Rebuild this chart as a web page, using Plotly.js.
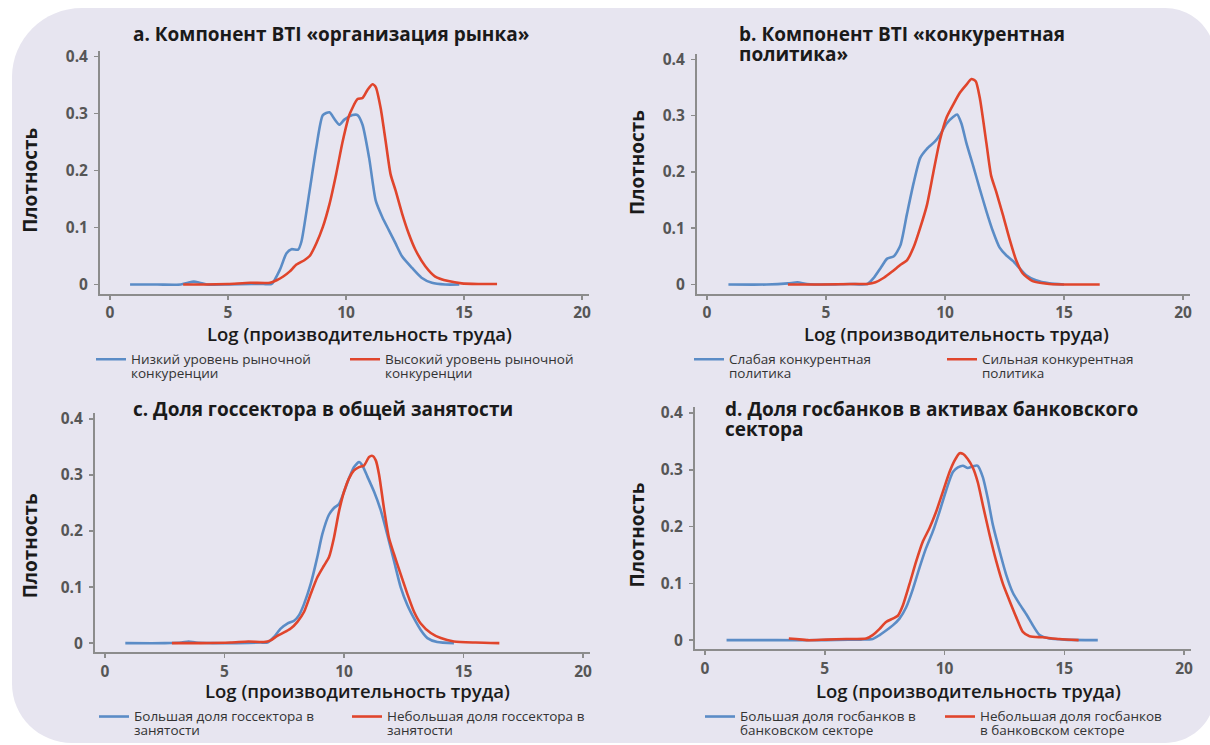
<!DOCTYPE html>
<html>
<head>
<meta charset="utf-8">
<script src="https://cdn.plot.ly/plotly-3.0.1.min.js"></script>
<style>html,body{margin:0;padding:0;background:#fff;}#chart{width:1210px;height:745px;}</style>
</head>
<body>
<div id="chart"></div>
<script>
// ---------- data ----------
const panelTitles = [
  ["a. Компонент BTI «организация рынка»"],
  ["b. Компонент BTI «конкурентная", "политика»"],
  ["c. Доля госсектора в общей занятости"],
  ["d. Доля госбанков в активах банковского", "сектора"]
];
const xAxisTitle = "Log (производительность труда)";
const yAxisTitle = "Плотность";
const xTickVals = [0, 5, 10, 15, 20];
const yTickVals = [0, 0.1, 0.2, 0.3, 0.4];
const yTickText = ["0", "0.1", "0.2", "0.3", "0.4"];

const legendNames = [
  [["Низкий уровень рыночной", "конкуренции"], ["Высокий уровень рыночной", "конкуренции"]],
  [["Слабая конкурентная", "политика"], ["Сильная конкурентная", "политика"]],
  [["Большая доля госсектора в", "занятости"], ["Небольшая доля госсектора в", "занятости"]],
  [["Большая доля госбанков в", "банковском секторе"], ["Небольшая доля госбанков", "в банковском секторе"]]
];

// panel a
const aBlueX = [0.85, 2.0, 3.0, 3.3, 3.55, 3.8, 4.1, 5.0, 6.0, 6.5, 6.85, 7.2, 7.48, 7.69, 7.97, 8.11, 8.46, 8.74, 9.02, 9.3, 9.51, 9.72, 9.93, 10.28, 10.49, 10.7, 10.98, 11.26, 11.54, 11.82, 12.1, 12.38, 12.8, 13.2, 13.64, 14.2, 14.8];
const aBlueY = [0, 0, 0, 0.003, 0.005, 0.003, 0, 0, 0.001, 0.001, 0.001, 0.026, 0.055, 0.062, 0.061, 0.075, 0.165, 0.24, 0.297, 0.302, 0.29, 0.28, 0.289, 0.297, 0.297, 0.28, 0.222, 0.147, 0.118, 0.095, 0.072, 0.049, 0.029, 0.012, 0.003, 0, 0];
const aRedX = [3.1, 4.0, 5.0, 5.94, 6.78, 7.06, 7.34, 7.62, 7.9, 8.25, 8.46, 8.74, 9.02, 9.3, 9.58, 9.86, 10.14, 10.49, 10.7, 10.91, 11.12, 11.26, 11.47, 11.68, 11.89, 12.1, 12.38, 12.66, 12.94, 13.36, 13.78, 14.34, 14.9, 15.6, 16.4];
const aRedY = [0, 0, 0.001, 0.003, 0.003, 0.0075, 0.014, 0.023, 0.035, 0.043, 0.05, 0.072, 0.101, 0.141, 0.193, 0.251, 0.297, 0.325, 0.327, 0.341, 0.351, 0.346, 0.309, 0.251, 0.193, 0.165, 0.124, 0.089, 0.061, 0.032, 0.014, 0.006, 0.002, 0.001, 0.001];

// panel b
const bBlueX = [0.9, 2.5, 3.4, 3.8, 4.2, 5.0, 6.0, 6.74, 7.01, 7.29, 7.57, 7.85, 8.13, 8.4, 8.68, 8.96, 9.24, 9.58, 9.79, 10.07, 10.35, 10.51, 10.69, 10.9, 11.18, 11.46, 11.74, 12.01, 12.29, 12.57, 12.85, 13.13, 13.4, 13.82, 14.38, 15.0];
const bBlueY = [0, 0, 0.002, 0.004, 0.001, 0, 0.001, 0.001, 0.012, 0.029, 0.046, 0.05, 0.07, 0.125, 0.18, 0.225, 0.241, 0.254, 0.266, 0.286, 0.298, 0.302, 0.286, 0.251, 0.211, 0.17, 0.13, 0.095, 0.066, 0.052, 0.042, 0.029, 0.017, 0.0075, 0.002, 0];
const bRedX = [3.4, 4.8, 6.18, 6.74, 7.08, 7.43, 7.78, 8.13, 8.4, 8.68, 8.96, 9.24, 9.51, 9.79, 10.07, 10.35, 10.63, 10.9, 11.11, 11.29, 11.46, 11.74, 11.94, 12.15, 12.43, 12.71, 12.99, 13.26, 13.68, 14.38, 15.5, 16.5];
const bRedY = [0, 0, 0.001, 0.001, 0.004, 0.012, 0.023, 0.035, 0.043, 0.066, 0.101, 0.141, 0.199, 0.257, 0.297, 0.32, 0.341, 0.355, 0.365, 0.361, 0.332, 0.251, 0.193, 0.165, 0.124, 0.081, 0.043, 0.02, 0.006, 0.001, 0, 0];

// panel c
const cBlueX = [0.85, 2.5, 3.2, 3.5, 3.8, 4.5, 5.5, 6.5, 6.79, 7.07, 7.35, 7.63, 7.91, 8.12, 8.33, 8.61, 8.88, 9.09, 9.37, 9.58, 9.79, 10.0, 10.21, 10.42, 10.63, 10.77, 10.98, 11.26, 11.53, 11.81, 12.09, 12.37, 12.65, 12.93, 13.21, 13.49, 13.9, 14.6];
const cBlueY = [0, 0, 0.001, 0.003, 0.001, 0, 0, 0.001, 0.001, 0.011, 0.026, 0.035, 0.04, 0.05, 0.07, 0.106, 0.153, 0.194, 0.229, 0.241, 0.248, 0.27, 0.294, 0.314, 0.323, 0.317, 0.297, 0.27, 0.238, 0.194, 0.147, 0.1, 0.068, 0.044, 0.0235, 0.009, 0.002, 0];
const cRedX = [2.8, 4.0, 5.26, 6.0, 6.65, 6.93, 7.21, 7.49, 7.77, 8.05, 8.33, 8.61, 8.88, 9.16, 9.37, 9.58, 9.79, 10.0, 10.21, 10.42, 10.63, 10.84, 11.05, 11.19, 11.33, 11.47, 11.67, 11.88, 12.09, 12.37, 12.65, 12.93, 13.21, 13.63, 14.05, 14.6, 15.5, 16.5];
const cRedY = [0, 0, 0.001, 0.003, 0.002, 0.005, 0.013, 0.019, 0.026, 0.038, 0.056, 0.088, 0.117, 0.138, 0.153, 0.188, 0.235, 0.27, 0.294, 0.308, 0.314, 0.317, 0.332, 0.334, 0.326, 0.3, 0.241, 0.188, 0.159, 0.123, 0.088, 0.056, 0.035, 0.018, 0.009, 0.003, 0.001, 0];

// panel d
const dBlueX = [0.9, 3.0, 5.0, 6.0, 6.5, 7.0, 7.29, 7.56, 7.84, 8.12, 8.4, 8.68, 8.96, 9.23, 9.51, 9.79, 10.07, 10.35, 10.56, 10.77, 10.97, 11.18, 11.39, 11.6, 11.81, 12.02, 12.3, 12.57, 12.85, 13.13, 13.41, 13.69, 13.97, 14.38, 15.0, 16.4];
const dBlueY = [0, 0, 0, 0.001, 0.001, 0.002, 0.009, 0.017, 0.026, 0.038, 0.058, 0.09, 0.128, 0.162, 0.191, 0.226, 0.264, 0.296, 0.304, 0.307, 0.303, 0.306, 0.307, 0.287, 0.249, 0.203, 0.157, 0.116, 0.084, 0.064, 0.046, 0.026, 0.009, 0.003, 0.001, 0];
const dRedX = [3.5, 3.8, 4.3, 5.06, 5.9, 6.73, 7.0, 7.29, 7.56, 7.84, 8.05, 8.26, 8.54, 8.82, 9.1, 9.37, 9.65, 9.93, 10.21, 10.42, 10.63, 10.77, 10.97, 11.18, 11.39, 11.6, 11.88, 12.16, 12.44, 12.71, 12.99, 13.27, 13.55, 14.1, 14.8, 15.6];
const dRedY = [0.003, 0.002, 0, 0.001, 0.002, 0.003, 0.009, 0.02, 0.032, 0.038, 0.043, 0.061, 0.099, 0.139, 0.174, 0.197, 0.226, 0.261, 0.296, 0.316, 0.329, 0.328, 0.319, 0.304, 0.278, 0.238, 0.186, 0.139, 0.099, 0.07, 0.041, 0.0145, 0.007, 0.005, 0.002, 0];

// ---------- styling / layout ----------
const W = 1210, H = 745;
const BLUE = "#5b8cc6", RED = "#e0452c";
const BG = "#e7e5f0";
const FONT = "Open Sans, Noto Sans, sans-serif";
const px = v => v / W;
const py = v => 1 - v / H;
// multi-line text with a tight line pitch: base font sets the line pitch, spans set glyph size
const lines = (arr, size) => arr.map(t => "<span style='font-size:" + size + "px'>" + t + "</span>").join("<br>");

// pixel geometry of each panel: x data 0 & 20 positions, y data 0 & 0.4 positions
const geo = [
  {x0: 110, x20: 582, y0: 288, y4: 57},
  {x0: 707, x20: 1183, y0: 288, y4: 60},
  {x0: 105, x20: 583, y0: 651, y4: 424},
  {x0: 705, x20: 1184, y0: 648, y4: 418}
];
const XR = [-0.42, 20.3], YR = [-0.016, 0.41];

const series = [
  [aBlueX, aBlueY, aRedX, aRedY],
  [bBlueX, bBlueY, bRedX, bRedY],
  [cBlueX, cBlueY, cRedX, cRedY],
  [dBlueX, dBlueY, dRedX, dRedY]
];

// legend text positions (text-left px, first-line centre px)
const legendPos = [
  [[131, 359], [385, 359]],
  [[729, 359], [982, 359]],
  [[134, 721], [387, 721]],
  [[740, 721], [980, 721]]
];
const titlePos = [[131, 31], [737, 31], [131, 411], [723, 411]];
const xTitlePos = [[359, 338], [956, 338], [357, 699], [968, 699]];
const yTitlePos = [[30, 183], [637, 165], [30, 553], [637, 542]];

const traces = [];
const tickFont = {size: 15.5, color: "#565656", weight: 700, family: FONT};
const layout = {
  width: W, height: H,
  margin: {l: 0, r: 0, t: 0, b: 0},
  paper_bgcolor: "#ffffff",
  plot_bgcolor: "rgba(0,0,0,0)",
  font: {family: FONT, color: "#222"},
  showlegend: true,
  annotations: [],
  shapes: []
};

let legendIdx = 0;
series.forEach((s, i) => {
  const g = geo[i];
  const sx = (g.x20 - g.x0) / 20, sy = (g.y0 - g.y4) / 0.4;
  const left = g.x0 + XR[0] * sx, right = g.x0 + XR[1] * sx;
  const bottom = g.y0 - YR[0] * sy, top = g.y0 - YR[1] * sy;
  const n = i === 0 ? "" : String(i + 1);
  layout["xaxis" + n] = {
    domain: [px(left), px(right)], range: XR, anchor: "y" + n,
    showgrid: false, zeroline: false, showline: true, linecolor: "#8c8c8c", linewidth: 2,
    ticks: "outside", ticklen: 4, tickwidth: 1.5, tickcolor: "#8c8c8c",
    tickvals: xTickVals, tickfont: tickFont
  };
  layout["yaxis" + n] = {
    domain: [py(bottom), py(top)], range: YR, anchor: "x" + n,
    showgrid: false, zeroline: false, showline: true, linecolor: "#8c8c8c", linewidth: 2,
    ticks: "outside", ticklen: 4, tickwidth: 1.5, tickcolor: "#8c8c8c",
    ticklabelstandoff: 3,
    tickvals: yTickVals, ticktext: yTickText, tickfont: tickFont
  };
  const colors = [BLUE, RED];
  [0, 1].forEach(k => {
    legendIdx++;
    const lname = legendIdx === 1 ? "legend" : "legend" + legendIdx;
    traces.push({
      type: "scatter", mode: "lines",
      x: s[k * 2], y: s[k * 2 + 1],
      xaxis: "x" + n, yaxis: "y" + n,
      name: lines(legendNames[i][k], 13.5),
      legend: lname,
      line: {color: colors[k], width: 2.6, shape: "spline", smoothing: 0.6},
      hoverinfo: "skip"
    });
    const lp = legendPos[i][k];
    layout[lname] = {
      x: px(lp[0] - 40), y: py(lp[1] - 9), xanchor: "left", yanchor: "top",
      bgcolor: "rgba(0,0,0,0)", borderwidth: 0, valign: "top",
      font: {size: 10.8, color: "#333", family: FONT}
    };
  });
  layout.annotations.push({
    text: xAxisTitle, xref: "paper", yref: "paper",
    x: px(xTitlePos[i][0]), y: py(xTitlePos[i][1]),
    xanchor: "center", yanchor: "middle", showarrow: false,
    font: {size: 18.5, color: "#1a1a1a", weight: 600, family: FONT}
  });
  layout.annotations.push({
    text: yAxisTitle, xref: "paper", yref: "paper", textangle: -90,
    x: px(yTitlePos[i][0]), y: py(yTitlePos[i][1]),
    xanchor: "center", yanchor: "middle", showarrow: false,
    font: {size: 19, color: "#1a1a1a", weight: 700, family: FONT}
  });
  const tp = titlePos[i];
  layout.annotations.push({
    text: lines(panelTitles[i], 19), xref: "paper", yref: "paper",
    x: px(tp[0]), y: py(tp[1] - 12), xanchor: "left", yanchor: "top", align: "left",
    showarrow: false,
    font: {size: 15.4, color: "#1a1a1a", weight: 700, family: FONT}
  });
});

// rounded lavender backdrop
(function () {
  const L = 12, T = 8, R = 1215, B = 752, k = 0.5523;
  const r1 = 70, r2 = 50, r3 = 50, r4 = 60;
  const P = (x, y) => px(x).toFixed(5) + "," + py(y).toFixed(5);
  const path =
    "M" + P(L + r1, T) + " L" + P(R - r2, T) +
    " C" + P(R - r2 + k * r2, T) + " " + P(R, T + r2 - k * r2) + " " + P(R, T + r2) +
    " L" + P(R, B - r3) +
    " C" + P(R, B - r3 + k * r3) + " " + P(R - r3 + k * r3, B) + " " + P(R - r3, B) +
    " L" + P(L + r4, B) +
    " C" + P(L + r4 - k * r4, B) + " " + P(L, B - r4 + k * r4) + " " + P(L, B - r4) +
    " L" + P(L, T + r1) +
    " C" + P(L, T + r1 - k * r1) + " " + P(L + r1 - k * r1, T) + " " + P(L + r1, T) + " Z";
  layout.shapes.push({type: "path", xref: "paper", yref: "paper", path: path,
    fillcolor: BG, line: {width: 0}, layer: "below"});
})();

Plotly.newPlot("chart", traces, layout, {displayModeBar: false, staticPlot: true});
</script>
</body>
</html>
